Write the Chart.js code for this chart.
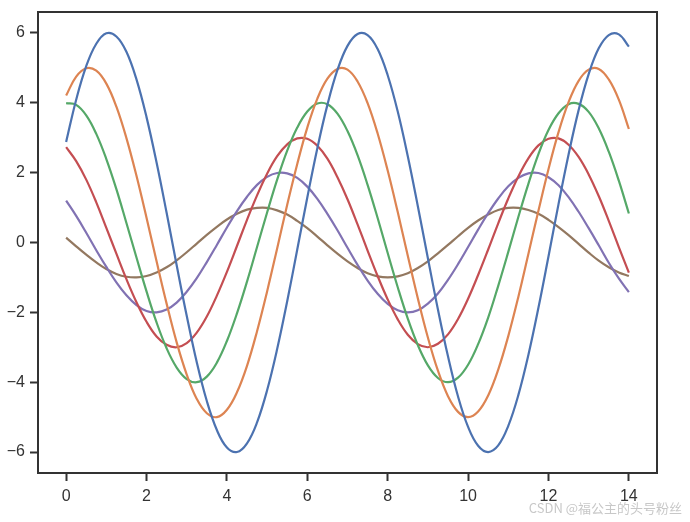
<!DOCTYPE html>
<html>
<head>
<meta charset="utf-8">
<script src="https://cdn.jsdelivr.net/npm/chart.js@4.4.1/dist/chart.umd.min.js"></script>
<style>
  html, body { margin: 0; padding: 0; background: #ffffff; }
  #wrap { position: relative; width: 690px; height: 522px; }
  #mark { position: absolute; right: 8px; bottom: 5px; font-family: "Noto Sans CJK SC", "Liberation Sans", sans-serif; font-size: 13px; color: #c8c8c8; }
</style>
</head>
<body>
<div id="wrap">
<canvas id="c" width="690" height="522"></canvas>
<div id="mark">CSDN @福公主的头号粉丝</div>
</div>
<script>
// x positions (0 to 14, step 0.25)
const xValues = [0,0.25,0.5,0.75,1,1.25,1.5,1.75,2,2.25,2.5,2.75,3,3.25,3.5,3.75,4,4.25,4.5,4.75,5,5.25,5.5,5.75,6,6.25,6.5,6.75,7,7.25,7.5,7.75,8,8.25,8.5,8.75,9,9.25,9.5,9.75,10,10.25,10.5,10.75,11,11.25,11.5,11.75,12,12.25,12.5,12.75,13,13.25,13.5,13.75,14];

const series1 = [2.88,4.09,5.05,5.69,5.99,5.90,5.46,4.67,3.59,2.29,0.85,-0.65,-2.10,-3.43,-4.54,-5.37,-5.87,-6.00,-5.75,-5.15,-4.23,-3.05,-1.68,-0.20,1.29,2.70,3.94,4.94,5.63,5.97,5.94,5.54,4.79,3.75,2.47,1.04,-0.45,-1.92,-3.26,-4.41,-5.28,-5.82,-6.00,-5.81,-5.25,-4.37,-3.22,-1.87,-0.40,1.10,2.52,3.79,4.82,5.56,5.94,5.96,5.61];
const series2 = [4.21,4.75,4.99,4.92,4.55,3.89,2.99,1.91,0.71,-0.54,-1.75,-2.86,-3.78,-4.48,-4.89,-5.00,-4.79,-4.29,-3.53,-2.54,-1.40,-0.17,1.08,2.25,3.29,4.12,4.69,4.97,4.95,4.61,3.99,3.12,2.06,0.87,-0.38,-1.60,-2.72,-3.67,-4.40,-4.85,-5.00,-4.84,-4.38,-3.64,-2.68,-1.56,-0.33,0.91,2.10,3.16,4.02,4.63,4.95,4.97,4.67,4.09,3.25];
const series3 = [3.99,3.94,3.64,3.11,2.39,1.53,0.56,-0.43,-1.40,-2.29,-3.03,-3.58,-3.91,-4.00,-3.84,-3.44,-2.82,-2.03,-1.12,-0.13,0.86,1.80,2.63,3.29,3.75,3.98,3.96,3.69,3.19,2.50,1.65,0.70,-0.30,-1.28,-2.18,-2.94,-3.52,-3.88,-4.00,-3.87,-3.50,-2.91,-2.15,-1.24,-0.27,0.73,1.68,2.53,3.22,3.70,3.96,3.97,3.74,3.27,2.60,1.77,0.83];
const series4 = [2.73,2.33,1.80,1.15,0.42,-0.32,-1.05,-1.71,-2.27,-2.69,-2.93,-3.00,-2.88,-2.58,-2.12,-1.52,-0.84,-0.10,0.65,1.35,1.97,2.47,2.81,2.98,2.97,2.77,2.40,1.87,1.24,0.52,-0.23,-0.96,-1.63,-2.20,-2.64,-2.91,-3.00,-2.90,-2.63,-2.19,-1.61,-0.93,-0.20,0.55,1.26,1.89,2.41,2.78,2.97,2.98,2.80,2.45,1.95,1.33,0.62,-0.13,-0.86];
const series5 = [1.20,0.76,0.28,-0.22,-0.70,-1.14,-1.51,-1.79,-1.96,-2.00,-1.92,-1.72,-1.41,-1.02,-0.56,-0.07,0.43,0.90,1.31,1.65,1.88,1.99,1.98,1.85,1.60,1.25,0.82,0.35,-0.15,-0.64,-1.09,-1.47,-1.76,-1.94,-2.00,-1.94,-1.75,-1.46,-1.07,-0.62,-0.13,0.37,0.84,1.26,1.61,1.85,1.98,1.99,1.87,1.64,1.30,0.88,0.41,-0.08,-0.58,-1.03,-1.42];
const series6 = [0.14,-0.11,-0.35,-0.57,-0.76,-0.90,-0.98,-1.00,-0.96,-0.86,-0.71,-0.51,-0.28,-0.03,0.22,0.45,0.66,0.82,0.94,0.99,0.99,0.92,0.80,0.62,0.41,0.17,-0.08,-0.32,-0.54,-0.73,-0.88,-0.97,-1.00,-0.97,-0.88,-0.73,-0.54,-0.31,-0.07,0.18,0.42,0.63,0.80,0.93,0.99,0.99,0.93,0.82,0.65,0.44,0.21,-0.04,-0.29,-0.52,-0.71,-0.86,-0.96];

const xTicks = [0, 2, 4, 6, 8, 10, 12, 14];
const yTicks = [-6, -4, -2, 0, 2, 4, 6];

const allSeries = [series1, series2, series3, series4, series5, series6];
const colors = ['#4C72B0', '#DD8452', '#55A868', '#C44E52', '#8172B3', '#937860'];

const datasets = allSeries.map((s, i) => ({
  data: s.map((y, k) => ({ x: xValues[k], y: y })),
  borderColor: colors[i],
  borderWidth: 2.2,
  pointRadius: 0,
  tension: 0.4,
  fill: false
}));

const boxPlugin = {
  id: 'box',
  afterDraw(chart) {
    const a = chart.chartArea, ctx = chart.ctx;
    ctx.save();
    ctx.strokeStyle = '#333333';
    ctx.lineWidth = 2;
    ctx.strokeRect(a.left, a.top, a.right - a.left, a.bottom - a.top);
    ctx.restore();
  }
};

const fmt = v => (v < 0 ? '\u2212' + Math.abs(v) : String(v));
const tickFont = { family: '"Liberation Sans", Arial, sans-serif', size: 16 };

new Chart(document.getElementById('c'), {
  type: 'line',
  data: { datasets },
  plugins: [boxPlugin],
  options: {
    responsive: false,
    animation: false,
    layout: { padding: { top: 12, right: 33, left: 0, bottom: 0 } },
    plugins: { legend: { display: false }, tooltip: { enabled: false } },
    scales: {
      x: {
        type: 'linear',
        min: -0.7, max: 14.7,
        afterBuildTicks: s => { s.ticks = xTicks.map(v => ({ value: v })); },
        afterFit: s => { s.height = 49; s.paddingLeft = 0; s.paddingRight = 0; },
        border: { display: false },
        grid: { drawOnChartArea: false, drawTicks: true, tickLength: 8, tickColor: '#333333', tickWidth: 2 },
        ticks: { color: '#333333', font: tickFont, padding: 6, maxRotation: 0, callback: v => fmt(v) }
      },
      y: {
        type: 'linear',
        min: -6.6, max: 6.6,
        afterBuildTicks: s => { s.ticks = yTicks.map(v => ({ value: v })); },
        afterFit: s => { s.width = 38; s.paddingTop = 0; s.paddingBottom = 0; },
        border: { display: false },
        grid: { drawOnChartArea: false, drawTicks: true, tickLength: 8, tickColor: '#333333', tickWidth: 2 },
        ticks: { color: '#333333', font: tickFont, padding: 5, callback: v => fmt(v) }
      }
    }
  }
});
</script>
</body>
</html>
